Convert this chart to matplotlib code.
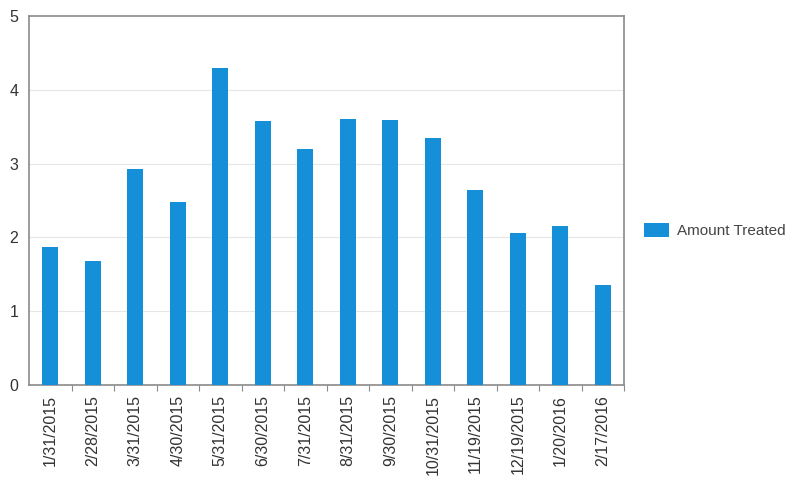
import matplotlib
matplotlib.use("Agg")
import matplotlib.pyplot as plt
from matplotlib.patches import Patch
import numpy as np

plt.rcParams['font.family'] = ['Liberation Sans', 'DejaVu Sans']

dates = ["1/31/2015", "2/28/2015", "3/31/2015", "4/30/2015", "5/31/2015",
         "6/30/2015", "7/31/2015", "8/31/2015", "9/30/2015", "10/31/2015",
         "11/19/2015", "12/19/2015", "1/20/2016", "2/17/2016"]
amount_treated = [1.87, 1.68, 2.93, 2.48, 4.29, 3.58, 3.20, 3.61, 3.59, 3.35,
                  2.64, 2.06, 2.15, 1.36]
y_ticks = [0, 1, 2, 3, 4, 5]
series_name = "Amount Treated"

bar_color = "#158fd7"
frame_color = "#8a8a8a"
text_color = "#333333"

fig = plt.figure(figsize=(7.95, 4.84), dpi=100)
ax = fig.add_axes([0.0365, 0.2045, 0.7485, 0.7625])

x = np.arange(len(dates))
ax.bar(x, amount_treated, width=0.37, color=bar_color, zorder=3)

ax.set_xlim(-0.5, len(dates) - 0.5)
ax.set_ylim(0, 5)
ax.set_yticks(y_ticks)
ax.set_yticklabels([str(v) for v in y_ticks], fontsize=11.5, color=text_color)
ax.tick_params(axis='y', length=0, pad=11)
for lbl in ax.get_yticklabels():
    lbl.set_horizontalalignment('center')

ax.set_xticks(x)
ax.set_xticklabels(dates, rotation=90, fontsize=11.5, color=text_color,
                   va='top', ha='center')
ax.tick_params(axis='x', which='major', length=0, pad=7)
ax.set_xticks(np.arange(len(dates)) + 0.5, minor=True)
ax.tick_params(axis='x', which='minor', length=4, color=frame_color, width=0.8)

for v in y_ticks[1:-1]:
    ax.axhline(v, color="#e6e6e6", lw=0.8, zorder=1)

for side in ['left', 'bottom', 'top', 'right']:
    ax.spines[side].set_color(frame_color)
    ax.spines[side].set_linewidth(1.2)

handles = [Patch(facecolor=bar_color, edgecolor='none')]
fig.legend(handles, [series_name], loc='center left',
           bbox_to_anchor=(0.793, 0.524), frameon=False, fontsize=11,
           handlelength=1.6, handleheight=1.0, handletextpad=0.55,
           labelcolor="#444444")

fig.savefig("out.png", dpi=100, facecolor='white')
